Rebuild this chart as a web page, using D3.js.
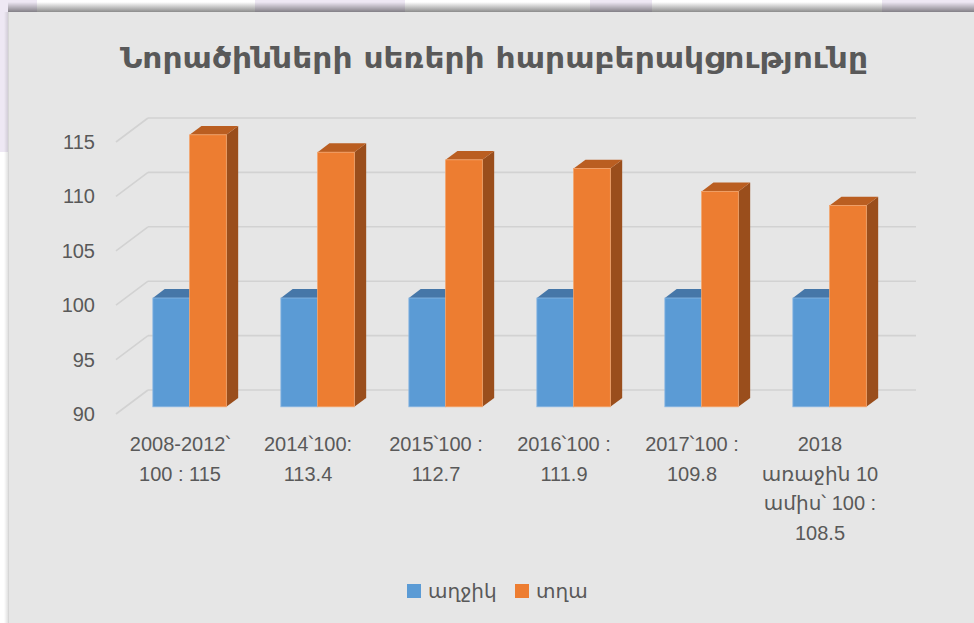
<!DOCTYPE html>
<html><head><meta charset="utf-8">
<script src="https://cdn.jsdelivr.net/npm/d3@7"></script>
<style>html,body{margin:0;padding:0;background:#fff;}svg{display:block;}</style>
</head><body>
<svg id="chart" width="974" height="623"></svg>
<script>
// ---- data ----
const title = "Նորածինների սեռերի հարաբերակցությունը";
const categories = ["2008-2012", "2014", "2015", "2016", "2017", "2018"];
const categoryLabels = [
  ["2008-2012՝", "100 : 115"],
  ["2014՝100:", "113.4"],
  ["2015՝100  :", "112.7"],
  ["2016՝100 :", "111.9"],
  ["2017՝100 :", "109.8"],
  ["2018", "առաջին 10", "ամիս՝ 100 :", "108.5"]
];
const seriesNames = ["աղջիկ", "տղա"];
const girls = [100, 100, 100, 100, 100, 100];
const boys = [115, 113.4, 112.7, 111.9, 109.8, 108.5];
const yTicks = [90, 95, 100, 105, 110, 115];
const yDomain = [90, 115];

// ---- styling ----
const colors = {
  "աղջիկ": {front: "#5b9bd5", top: "#4677a8", side: "#3b6591", edge: "#8ab8e3"},
  "տղա":   {front: "#ed7d31", top: "#ba5e21", side: "#9a4e1c", edge: "#f3a46c"}
};
const textColor = "#595959";
const font = "'Liberation Sans', Arial, 'DejaVu Sans', sans-serif";

const svg = d3.select("#chart");

// background: page strip, shadow, panel
const defs = svg.append("defs");
const sh = defs.append("linearGradient").attr("id", "shadow").attr("x1", 0).attr("y1", 0).attr("x2", 0).attr("y2", 1);
sh.append("stop").attr("offset", "0%").attr("stop-color", "#000").attr("stop-opacity", 0);
sh.append("stop").attr("offset", "100%").attr("stop-color", "#000").attr("stop-opacity", 0.45);
const shL = defs.append("linearGradient").attr("id", "shadowL").attr("x1", 0).attr("y1", 0).attr("x2", 1).attr("y2", 0);
shL.append("stop").attr("offset", "0%").attr("stop-color", "#000").attr("stop-opacity", 0);
shL.append("stop").attr("offset", "100%").attr("stop-color", "#000").attr("stop-opacity", 0.12);

svg.append("rect").attr("width", 974).attr("height", 623).attr("fill", "#ffffff");
const lav = "#eee8f4";
[[0, 0, 8, 152], [0, 0, 37, 12], [255, 0, 150, 12], [590, 0, 62, 12], [882, 0, 92, 12]].forEach(r => {
  svg.append("rect").attr("x", r[0]).attr("y", r[1]).attr("width", r[2]).attr("height", r[3]).attr("fill", lav);
});
svg.append("rect").attr("x", 8).attr("y", 2).attr("width", 966).attr("height", 10).attr("fill", "url(#shadow)");
svg.append("rect").attr("x", 4).attr("y", 12).attr("width", 4).attr("height", 611).attr("fill", "url(#shadowL)");
svg.append("rect").attr("x", 8).attr("y", 12).attr("width", 966).attr("height", 611).attr("fill", "#e6e6e6");
svg.append("line").attr("x1", 8.5).attr("x2", 8.5).attr("y1", 12).attr("y2", 623).attr("stroke", "#d6d6d6");

// title
svg.append("text")
  .attr("x", 494).attr("y", 68)
  .attr("text-anchor", "middle")
  .attr("font-family", "'DejaVu Sans', 'Noto Sans', sans-serif")
  .attr("font-weight", "bold")
  .attr("font-size", 28)
  .attr("fill", textColor)
  .attr("textLength", 748).attr("lengthAdjust", "spacingAndGlyphs")
  .text(title);

// ---- 3D geometry ----
const x0 = d3.scaleBand().domain(categories).range([148, 916]).padding(0);
const bw = x0.bandwidth();
const x1 = d3.scaleBand().domain(seriesNames).range([bw * 0.213, bw * 0.787]).padding(0);
const y = d3.scaleLinear().domain(yDomain).range([390, 118]); // back wall
const depth = {dx: -32, dy: 24}; // back wall -> front of floor
const fFront = 0.7, fBack = 0.33;

// gridlines
const grid = svg.append("g").attr("stroke", "#d2d2d2").attr("stroke-width", 1.6).attr("fill", "none");
yTicks.forEach(t => {
  grid.append("line").attr("x1", x0.range()[0]).attr("x2", x0.range()[1]).attr("y1", y(t)).attr("y2", y(t));
  grid.append("line").attr("x1", x0.range()[0] + depth.dx).attr("y1", y(t) + depth.dy)
    .attr("x2", x0.range()[0]).attr("y2", y(t));
});

// y tick labels (at the front edge of the side wall)
svg.append("g").selectAll("text").data(yTicks).join("text")
  .attr("x", x0.range()[0] + depth.dx - 21)
  .attr("y", d => y(d) + depth.dy)
  .attr("dy", "0.35em")
  .attr("text-anchor", "end")
  .attr("font-family", font).attr("font-size", 20).attr("fill", textColor)
  .text(d => d);

// bars
const rows = categories.map((c, i) => ({cat: c, values: [
  {s: seriesNames[0], v: girls[i]}, {s: seriesNames[1], v: boys[i]}
]}));
const bx = fFront * depth.dx, by = fFront * depth.dy;
const ddx = (fFront - fBack) * -depth.dx, ddy = (fFront - fBack) * -depth.dy;
const barsG = svg.append("g");
rows.forEach(r => {
  r.values.forEach(d => {
    const xl = x0(r.cat) + x1(d.s) + bx;
    const xr = xl + x1.bandwidth();
    const yt = y(d.v) + by;
    const yb = y(yDomain[0]) + by;
    const c = colors[d.s];
    const g = barsG.append("g");
    g.append("polygon").attr("points", [[xr, yt], [xr + ddx, yt + ddy], [xr + ddx, yb + ddy], [xr, yb]].join(" "))
      .attr("fill", c.side);
    g.append("polygon").attr("points", [[xl, yt], [xr, yt], [xr + ddx, yt + ddy], [xl + ddx, yt + ddy]].join(" "))
      .attr("fill", c.top);
    g.append("rect").attr("x", xl).attr("y", yt).attr("width", xr - xl).attr("height", yb - yt)
      .attr("fill", c.front).attr("stroke", c.edge).attr("stroke-width", 0.8);
  });
});

// category labels at the floor front
const catG = svg.append("g").attr("font-family", font).attr("font-size", 20).attr("fill", textColor)
  .attr("text-anchor", "middle");
categories.forEach((c, i) => {
  const t = catG.append("text")
    .attr("x", x0(c) + bw / 2 + depth.dx)
    .attr("y", 444).attr("dy", "0.35em");
  categoryLabels[i].forEach((ln, j) => {
    t.append("tspan").attr("x", x0(c) + bw / 2 + depth.dx).attr("dy", j === 0 ? "0.35em" : 29.5).text(ln);
  });
});

// legend
const legend = svg.append("g").attr("font-family", font).attr("font-size", 20).attr("fill", textColor);
const legX = [407, 515];
seriesNames.forEach((s, i) => {
  legend.append("rect").attr("x", legX[i]).attr("y", 584).attr("width", 14).attr("height", 14).attr("fill", colors[s].front);
  legend.append("text").attr("x", legX[i] + 21).attr("y", 591).attr("dy", "0.35em").text(s);
});
</script>
</body></html>
